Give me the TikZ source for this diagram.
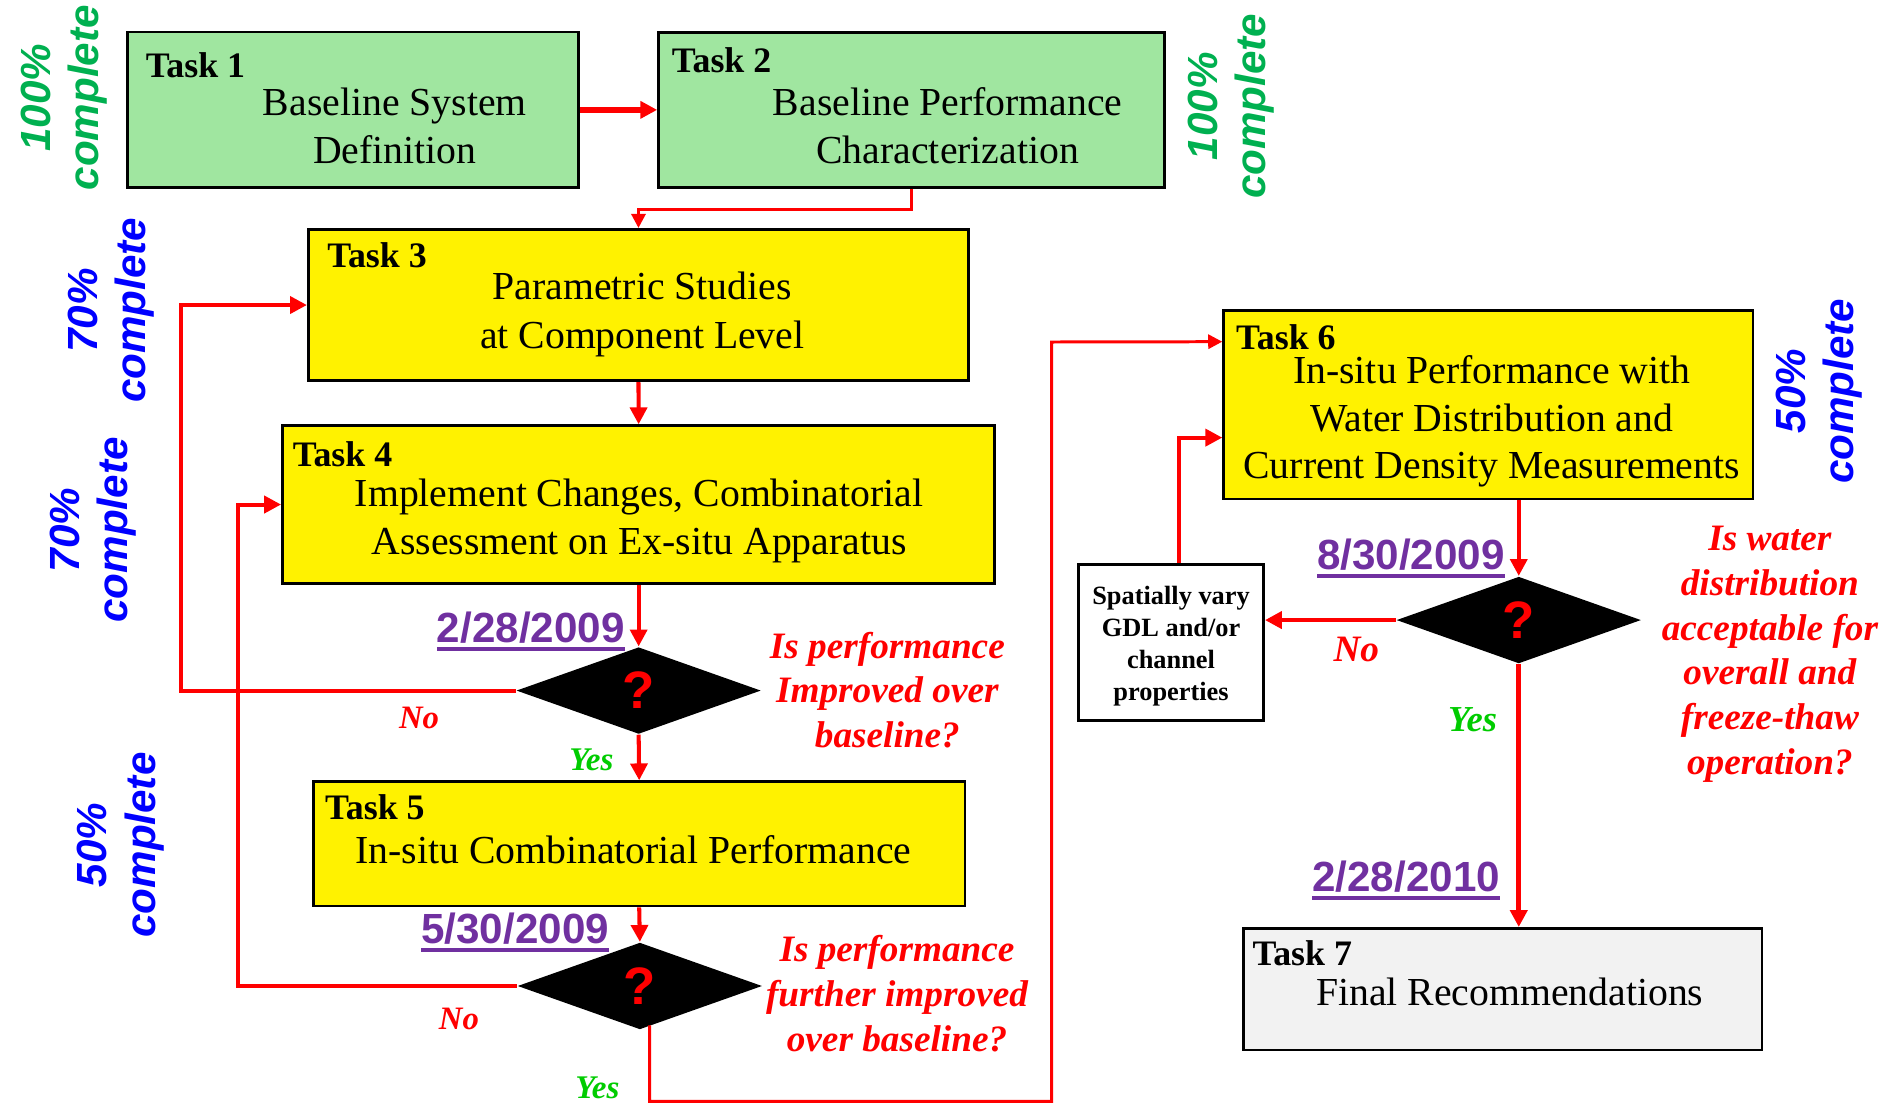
\documentclass[tikz,border=0pt]{standalone}
\usepackage{fontspec}
\setmainfont{Liberation Serif}
\newfontfamily\arialfont{Liberation Sans}
\usetikzlibrary{arrows.meta,shapes.geometric,fit}

\definecolor{donegreen}{RGB}{160,230,160}
\definecolor{pctgreen}{RGB}{0,176,80}
\definecolor{pctblue}{RGB}{0,0,255}
\definecolor{yesgreen}{RGB}{0,204,0}
\definecolor{datepurple}{RGB}{112,48,160}
\definecolor{finalgray}{RGB}{242,242,242}

% underlined milestone date
\newcommand\milestone[1]{\setbox0\hbox{#1}\rlap{\copy0}\rule[-2.4pt]{\wd0}{1.1pt}}

\tikzset{
  taskbox/.style={draw=black, line width=0.8pt, inner sep=0pt},
  tasklbl/.style={anchor=base west, inner sep=0pt, font=\fontsize{10.2}{12}\selectfont\bfseries},
  taskbody/.style={align=center, inner sep=0pt, font=\fontsize{11.3}{13.8}\selectfont},
  decision/.style={diamond, fill=black, inner sep=0pt, minimum width=2.446cm, minimum height=0.869cm,
    text=red, font=\arialfont\bfseries\fontsize{15}{15}\selectfont},
  question/.style={align=center, inner sep=0pt, text=red, font=\fontsize{10.6}{12.7}\selectfont\bfseries\itshape},
  datelbl/.style={anchor=base east, inner sep=0pt, text=datepurple, font=\arialfont\bfseries\fontsize{12}{12}\selectfont},
  pct/.style={rotate=90, align=center, inner sep=0pt, font=\arialfont\bfseries\itshape\fontsize{12}{13.7}\selectfont},
  answer/.style={anchor=base west, inner sep=0pt, font=\fontsize{#1}{#1}\selectfont\bfseries\itshape},
  flow/.style={draw=red, line width=1.15pt, -{Triangle[length=4.8pt,width=4.8pt]}},
  thinflow/.style={draw=red, line width=0.85pt, -{Triangle[length=4pt,width=4pt]}},
}

\begin{document}
\begin{tikzpicture}[x=0.012073cm, y=-0.012073cm]
\useasboundingbox (0,0) rectangle (1568,914);

% Task boxes
\node[taskbox, fill=donegreen, fit={(105.5,26.5) (479.5,155.5)}] (task1) {};
\node[taskbox, fill=donegreen, fit={(545.5,26.8) (964.6,155.2)}] (task2) {};
\node[taskbox, fill=yellow, fit={(255.4,190) (802.3,315.3)}] (task3) {};
\node[taskbox, fill=yellow, fit={(234,352.6) (824,483.2)}] (task4) {};
\node[taskbox, fill=yellow, fit={(259.6,647.5) (799.3,750.4)}] (task5) {};
\node[taskbox, fill=yellow, fit={(1013.6,257.3) (1452,413.3)}] (task6) {};
\node[taskbox, fill=finalgray, fit={(1030,769) (1459.5,869.7)}] (task7) {};
\node[taskbox, fill=white, line width=0.9pt, fit={(893,467.4) (1046.5,597)}] (spatial) {};

% Task titles
\node[tasklbl] (lbl1) at (120.2,64.3) {Task 1};
\node[tasklbl] (lbl2) at (556,60.2) {Task 2};
\node[tasklbl] (lbl3) at (270.6,221.7) {Task 3};
\node[tasklbl] (lbl4) at (242,386.5) {Task 4};
\node[tasklbl] (lbl5) at (268.8,678.7) {Task 5};
\node[tasklbl] (lbl6) at (1023.4,289.3) {Task 6};
\node[tasklbl] (lbl7) at (1037,800) {Task 7};

% Task descriptions
\node[taskbody] (body1) at (327,104.2) {Baseline System\\Definition};
\node[taskbody] (body2) at (785,104.2) {Baseline Performance\\Characterization};
\node[taskbody] (body3) at (532,260.5) {Parametric Studies\\at Component Level};
\node[taskbody] (body4) at (529.3,431.5) {Implement Changes, Combinatorial\\Assessment on Ex-situ Apparatus};
\node[taskbody, anchor=base] (body5) at (524.7,715) {In-situ Combinatorial Performance};
\node[taskbody, font=\fontsize{11.3}{13.6}\selectfont] (body6) at (1235.6,349) {In-situ Performance with\\Water Distribution and\\Current Density Measurements};
\node[taskbody, anchor=base] (body7) at (1250.5,833) {Final Recommendations};
\node[taskbody, font=\fontsize{7.5}{9.1}\selectfont\bfseries] (spatialtxt) at (970,535.6) {Spatially vary\\GDL and/or\\channel\\properties};

% Decisions
\node[decision] (dia1) at (529,572) {?};
\node[decision] (dia2) at (530,816.7) {?};
\node[decision] (dia3) at (1258,513.6) {?};

\node[question] (q1) at (735,571.5) {Is performance\\Improved over\\baseline?};
\node[question] (q2) at (743,823) {Is performance\\further improved\\over baseline?};
\node[question] (q3) at (1466,542) {Is water\\distribution\\acceptable for\\overall and\\freeze-thaw\\operation?};

% Milestone dates
\node[datelbl] (date1) at (518,532.3) {\milestone{2/28/2009}};
\node[datelbl] (date2) at (505,781.4) {\milestone{5/30/2009}};
\node[datelbl] (date3) at (1247,471.5) {\milestone{8/30/2009}};
\node[datelbl] (date4) at (1243,738.6) {\milestone{2/28/2010}};

% Yes / No
\node[answer=9.3, text=red] (no1) at (330,603.3) {No};
\node[answer=9.4, text=yesgreen] (yes1) at (471,637.8) {Yes};
\node[answer=9.3, text=red] (no2) at (363,853) {No};
\node[answer=9.4, text=yesgreen] (yes2) at (476,909.5) {Yes};
\node[answer=10.6, text=red] (no3) at (1104,548) {No};
\node[answer=10.4, text=yesgreen] (yes3) at (1199,606) {Yes};

% Progress
\node[pct, text=pctgreen] (done1) at (53,81) {100\%\\complete};
\node[pct, text=pctgreen] (done2) at (1020,88) {100\%\\complete};
\node[pct, text=pctblue] (done3) at (92,257) {70\%\\complete};
\node[pct, text=pctblue] (done4) at (77,439) {70\%\\complete};
\node[pct, text=pctblue] (done5) at (100,700) {50\%\\complete};
\node[pct, text=pctblue] (done6) at (1507,324) {50\%\\complete};

% Flow
\draw[flow, line width=1.5pt] (task1.east) -- (task2.west);
\draw[thinflow] (task2.south) -- ++(0,17) -| (task3.north);
\draw[flow] (task3.south) -- (task4.north);
\draw[flow] (task4.south) -- (dia1.north);
\draw[flow] (dia1.south) -- (task5.north);
\draw[flow] (dia1.west) -- ++(-277,0) |- (task3.west);
\draw[flow] (task5.south) -- (dia2.north);
\draw[flow] (dia2.west) -- ++(-231.3,0) |- (task4.west);
\draw[thinflow] ([shift={(8,-4)}]dia2.south) -- ++(0,63) -| ++(333,-629) -- ([yshift=0.631cm]task6.west);
\draw[flow] (task6.south -| dia3.north) -- (dia3.north);
\draw[flow, line width=1.3pt] (dia3.west) -- (dia3.west -| spatial.east);
\draw[flow] ([xshift=0.083cm]spatial.north) |- ([yshift=-0.328cm]task6.west);
\draw[flow, line width=1.3pt] (dia3.south) -- (dia3.south |- task7.north);
\end{tikzpicture}
\end{document}
